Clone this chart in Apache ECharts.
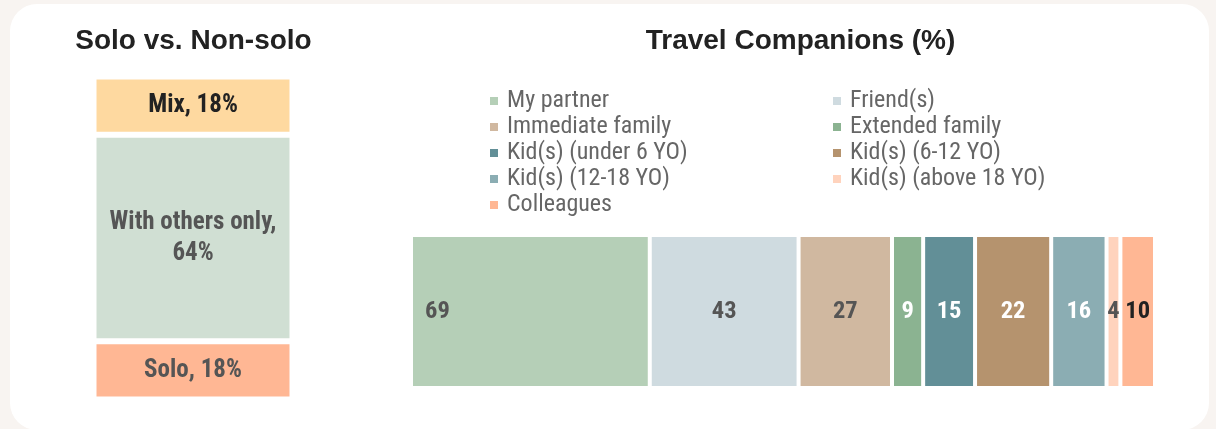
<!DOCTYPE html>
<html>
<head>
<meta charset="utf-8">
<script src="https://cdn.jsdelivr.net/npm/echarts@6/dist/echarts.min.js"></script>
<style>
html,body{margin:0;padding:0;background:#f8f4f1;width:1216px;height:429px;overflow:hidden;}
#card{position:absolute;left:10px;top:4px;width:1199px;height:426px;background:#fff;border-radius:27px;}
#chart{position:absolute;left:0;top:0;width:1216px;height:429px;}
</style>
</head>
<body>
<div id="card"></div>
<div id="chart"></div>
<script>
// Left panel: Solo vs. Non-solo (stacked bottom -> top)
const soloNames = ['Solo', 'With others only', 'Mix'];
const soloValues = [18, 64, 18];

// Right panel: Travel Companions (%)
const companionNames = ['My partner', 'Friend(s)', 'Immediate family', 'Extended family',
  'Kid(s) (under 6 YO)', 'Kid(s) (6-12 YO)', 'Kid(s) (12-18 YO)', 'Kid(s) (above 18 YO)', 'Colleagues'];
const companionValues = [69, 43, 27, 9, 15, 22, 16, 4, 10];

const soloColors = ['#ffb794', '#d0dfd3', '#fed9a0'];
const soloLabelColors = ['#555555', '#555555', '#222222'];
const compColors = ['#b5cfb7', '#cfdbe0', '#d0b8a0', '#8bb391', '#628f97', '#b5936e', '#8badb3', '#ffd3bd', '#ffb794'];
const compLabelColors = ['#555555', '#555555', '#555555', '#ffffff', '#ffffff', '#ffffff', '#ffffff', '#555555', '#222222'];

const NARROW = '"Roboto Condensed", Roboto, "Liberation Sans", Arial, sans-serif';
const SANS = '"Liberation Sans", Arial, sans-serif';

const total = companionValues.reduce((a, b) => a + b, 0);

const series = [];
soloValues.forEach((v, i) => {
  series.push({
    type: 'bar', name: soloNames[i], stack: 'solo', xAxisIndex: 0, yAxisIndex: 0,
    barWidth: '100%',
    data: [v],
    itemStyle: { color: soloColors[i], borderColor: '#fff', borderWidth: 3 },
    label: {
      show: true, position: 'inside',
      formatter: () => soloNames[i] === 'With others only' ? 'With others only,\n' + v + '%' : soloNames[i] + ', ' + v + '%',
      color: soloLabelColors[i], fontWeight: 'bold', fontSize: 25, fontFamily: NARROW, lineHeight: 31
    }
  });
});
companionValues.forEach((v, i) => {
  series.push({
    type: 'bar', name: companionNames[i], stack: 'comp', xAxisIndex: 1, yAxisIndex: 1,
    barWidth: '100%',
    data: [v],
    itemStyle: { color: compColors[i], borderColor: '#fff', borderWidth: 2 },
    label: {
      show: true, position: i === 0 ? 'insideLeft' : 'inside', distance: i === 0 ? 14 : 5,
      color: compLabelColors[i], fontWeight: 'bold', fontSize: 24.5, fontFamily: NARROW
    }
  });
});

const legendText = { color: '#666666', fontSize: 24, fontFamily: NARROW, lineHeight: 26, padding: [0, 0, 0, 3] };
const chart = echarts.init(document.getElementById('chart'), null, { renderer: 'canvas' });
chart.setOption({
  animation: false,
  backgroundColor: 'transparent',
  graphic: [
    { type: 'text', x: 193.5, y: 41, style: { text: 'Solo vs. Non-solo', textAlign: 'center', textVerticalAlign: 'middle', font: 'bold 28px ' + SANS, fill: '#222222' } },
    { type: 'text', x: 800.5, y: 41, style: { text: 'Travel Companions (%)', textAlign: 'center', textVerticalAlign: 'middle', font: 'bold 28px ' + SANS, fill: '#222222' } }
  ],
  legend: [
    { orient: 'vertical', left: 488, top: 88, padding: 0, itemWidth: 10, itemHeight: 10, itemGap: 0, icon: 'rect',
      selectedMode: false, textStyle: legendText,
      data: [companionNames[0], companionNames[2], companionNames[4], companionNames[6], companionNames[8]] },
    { orient: 'vertical', left: 831, top: 88, padding: 0, itemWidth: 10, itemHeight: 10, itemGap: 0, icon: 'rect',
      selectedMode: false, textStyle: legendText,
      data: [companionNames[1], companionNames[3], companionNames[5], companionNames[7]] }
  ],
  grid: [
    { left: 93.5, top: 76.5, width: 199, height: 323 },
    { left: 411, top: 235, width: 744, height: 153 }
  ],
  xAxis: [
    { type: 'category', gridIndex: 0, data: ['Solo vs. Non-solo'], show: false },
    { type: 'value', gridIndex: 1, min: 0, max: total, show: false }
  ],
  yAxis: [
    { type: 'value', gridIndex: 0, min: 0, max: 100, show: false },
    { type: 'category', gridIndex: 1, data: ['Travel Companions'], show: false }
  ],
  series: series
});
</script>
</body>
</html>
